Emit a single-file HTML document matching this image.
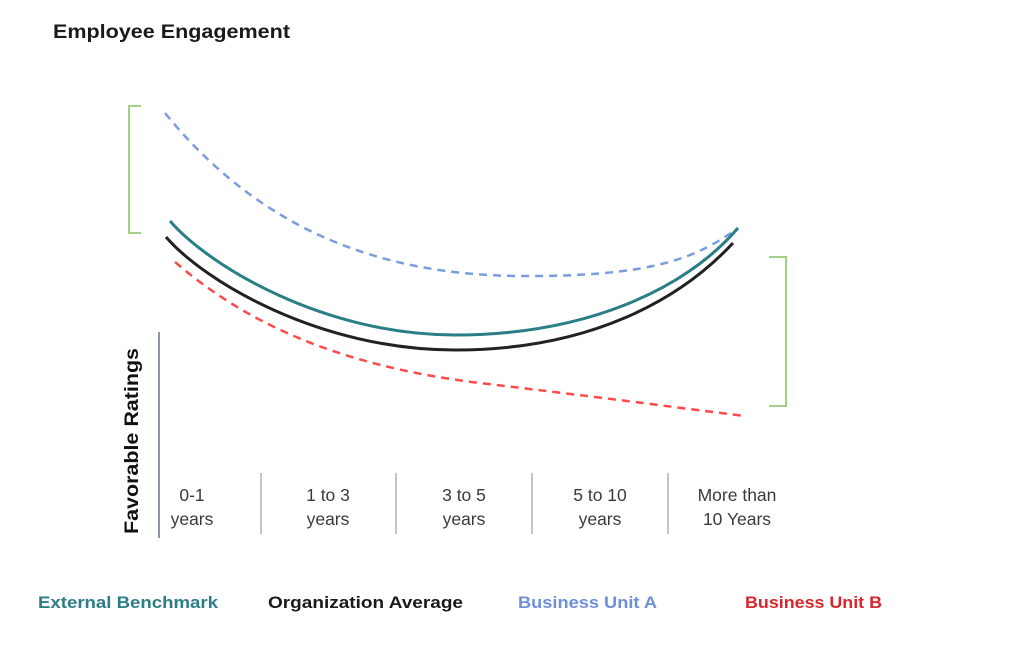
<!DOCTYPE html>
<html>
<head>
<meta charset="utf-8">
<style>
  html,body{margin:0;padding:0;background:#fff;}
  svg{display:block;}
  text{font-family:"Liberation Sans",sans-serif;}
</style>
</head>
<body>
<svg width="1024" height="651" viewBox="0 0 1024 651" xmlns="http://www.w3.org/2000/svg">
  <rect width="1024" height="651" fill="#fff"/>

  <!-- Title -->
  <text x="53" y="38" font-size="19" font-weight="bold" fill="#1a1a1a" textLength="237" lengthAdjust="spacingAndGlyphs">Employee Engagement</text>

  <!-- Brackets -->
  <path d="M141,106 L129,106 L129,233 L141,233" fill="none" stroke="#a3cf86" stroke-width="2"/>
  <path d="M769,257 L786,257 L786,406 L769,406" fill="none" stroke="#a3cf86" stroke-width="2"/>

  <!-- Series -->
  <path d="M165,113 C 260,230 380,275 520,276 S 700,255 738,228" fill="none" stroke="#7b9de0" stroke-width="2.5" stroke-dasharray="8,6"/>
  <path d="M175,262 C 240,318 330,365 480,383 S 680,408 745,416" fill="none" stroke="#ff4a4a" stroke-width="2.5" stroke-dasharray="8,6"/>
  <path d="M166,237 C 205,282 320,350 455,350 S 680,300 733,243" fill="none" stroke="#222" stroke-width="3"/>
  <path d="M170,221 C 210,267 325,335 455,335 S 685,290 738,228" fill="none" stroke="#2a7f86" stroke-width="3"/>

  <!-- Axis -->
  <line x1="159" y1="332" x2="159" y2="538" stroke="#8a96ab" stroke-width="2"/>
  <g stroke="#c4c4c4" stroke-width="2">
    <line x1="261" y1="473" x2="261" y2="534"/>
    <line x1="396" y1="473" x2="396" y2="534"/>
    <line x1="532" y1="473" x2="532" y2="534"/>
    <line x1="668" y1="473" x2="668" y2="534"/>
  </g>

  <!-- Y label -->
  <text transform="translate(138,441) rotate(-90)" x="0" y="0" text-anchor="middle" font-size="19" font-weight="bold" fill="#111" textLength="186" lengthAdjust="spacingAndGlyphs">Favorable Ratings</text>

  <!-- X labels -->
  <g font-size="17.5" fill="#3a3a3a" text-anchor="middle">
    <text x="192" y="501">0-1</text>
    <text x="192" y="525">years</text>
    <text x="328" y="501">1 to 3</text>
    <text x="328" y="525">years</text>
    <text x="464" y="501">3 to 5</text>
    <text x="464" y="525">years</text>
    <text x="600" y="501">5 to 10</text>
    <text x="600" y="525">years</text>
    <text x="737" y="501">More than</text>
    <text x="737" y="525">10 Years</text>
  </g>

  <!-- Legend -->
  <g font-size="17" font-weight="bold">
    <text x="38" y="608" fill="#2e7d86" textLength="180" lengthAdjust="spacingAndGlyphs">External Benchmark</text>
    <text x="268" y="608" fill="#1a1a1a" textLength="195" lengthAdjust="spacingAndGlyphs">Organization  Average</text>
    <text x="518" y="608" fill="#6f8fd8" textLength="139" lengthAdjust="spacingAndGlyphs">Business Unit A</text>
    <text x="745" y="608" fill="#d9262c" textLength="137" lengthAdjust="spacingAndGlyphs">Business Unit B</text>
  </g>
</svg>
</body>
</html>
